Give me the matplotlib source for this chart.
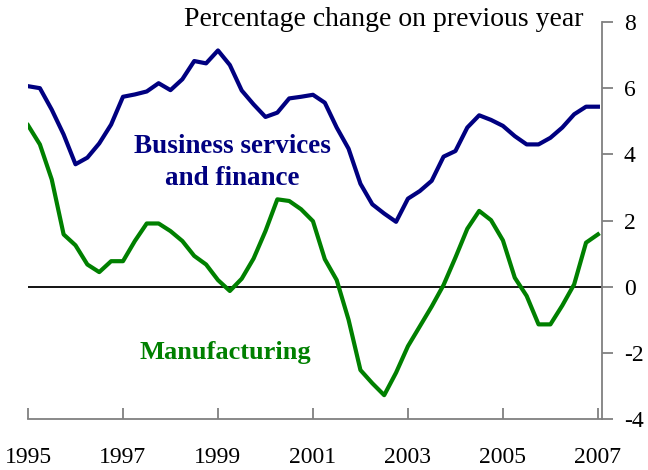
import numpy as np
import matplotlib.pyplot as plt

plt.rcParams['font.family'] = ['Liberation Serif', 'DejaVu Serif']
plt.rcParams['axes.unicode_minus'] = False

# quarterly, 1995 Q1 .. 2007 Q1
start_year = 1995
business = [6.06, 6.0, 5.35, 4.6, 3.7, 3.9, 4.33, 4.9, 5.74, 5.81,
            5.9, 6.15, 5.94, 6.27, 6.82, 6.75, 7.14, 6.7, 5.93, 5.51,
            5.13, 5.26, 5.69, 5.74, 5.8, 5.56, 4.81, 4.17, 3.11, 2.49,
            2.21, 1.96, 2.66, 2.89, 3.2, 3.93, 4.1, 4.81, 5.18, 5.04,
            4.86, 4.55, 4.3, 4.3, 4.5, 4.81, 5.21, 5.44, 5.44]
manufacturing = [4.88, 4.3, 3.24, 1.58, 1.25, 0.67, 0.44, 0.77, 0.77, 1.38,
                 1.91, 1.91, 1.68, 1.38, 0.93, 0.67, 0.2, -0.13, 0.24, 0.85,
                 1.68, 2.64, 2.59, 2.34, 1.98, 0.83, 0.2, -1.0, -2.52, -2.92,
                 -3.28, -2.6, -1.8, -1.2, -0.6, 0.05, 0.88, 1.75, 2.29, 2.01,
                 1.4, 0.27, -0.28, -1.14, -1.14, -0.57, 0.07, 1.33, 1.58]
year_ticks = [1995, 1997, 1999, 2001, 2003, 2005, 2007]
y_ticks = [-4, -2, 0, 2, 4, 6, 8]

t = start_year + 0.25 * np.arange(len(business))

fig = plt.figure(figsize=(6.48, 4.7), dpi=100)
ax = fig.add_axes([28/648, 1 - 419/470, (601.7 - 28)/648, (419 - 22)/470])

ax.axhline(0, color='black', lw=1.3, zorder=1)
ax.plot(t, business, color='#000080', lw=3.0, zorder=3)
ax.plot(t, manufacturing, color='#008000', lw=3.0, zorder=3)

ax.set_xlim(1995, 2007.08)
ax.set_ylim(-4, 8)
ax.set_xticks(year_ticks)
ax.set_xticklabels([str(y) for y in year_ticks])
ax.set_yticks(y_ticks)
ax.yaxis.tick_right()

for s in ['top', 'left']:
    ax.spines[s].set_visible(False)
for s in ['bottom', 'right']:
    ax.spines[s].set_color('#808080')
    ax.spines[s].set_linewidth(1.3)

ax.tick_params(axis='x', direction='in', length=8, width=1.3, color='#808080',
               labelsize=17, pad=20)
ax.tick_params(axis='y', direction='out', length=8, width=1.3, color='#808080',
               labelsize=17, pad=8)

fig.text(583/648, 1 - 20/470, 'Percentage change on previous year',
         ha='right', va='center', fontsize=20)
ax.text(1999.3, 3.75, 'Business services\nand finance', color='#000080',
        fontsize=19.5, fontweight='bold', ha='center', va='center',
        linespacing=1.4)
ax.text(1999.15, -2.0, 'Manufacturing', color='#008000', fontsize=19,
        fontweight='bold', ha='center', va='center')

fig.savefig('out.png', dpi=100)
